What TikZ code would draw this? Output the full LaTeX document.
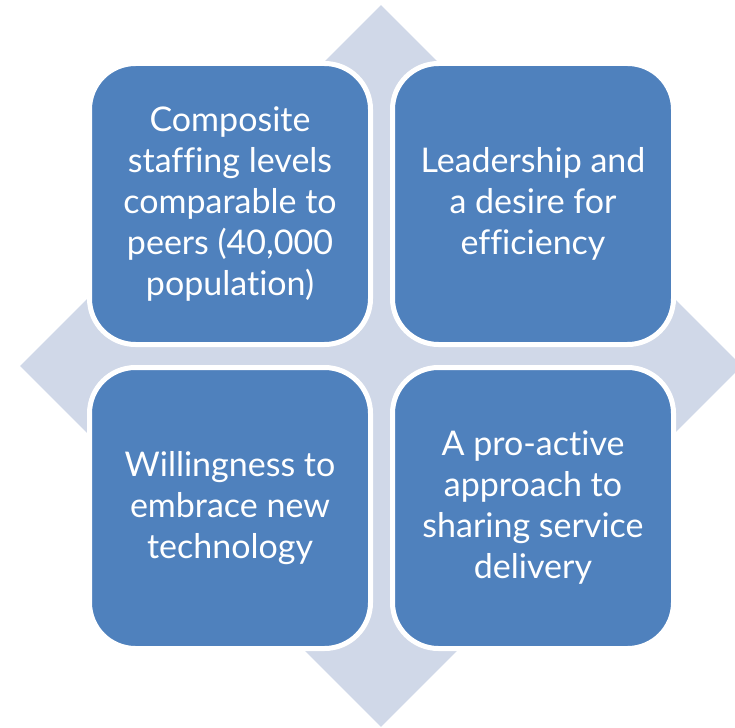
\documentclass[tikz,border=0pt]{standalone}
\usepackage{fontspec}
\setmainfont[Ligatures={NoCommon}]{Lato}
\usetikzlibrary{positioning}
\usetikzlibrary{shapes.geometric}
\definecolor{QuadBlue}{HTML}{4F81BD}
\definecolor{QuadPale}{HTML}{D0D8E8}

\begin{document}
\begin{tikzpicture}[
  x=1pt, y=-1pt,
  node distance={304pt and 303pt},
  on grid,
  quad/.style={draw=white, line width=5pt, fill=QuadBlue, rounded corners=46pt,
    minimum width=281pt, minimum height=281pt, inner sep=0pt,
    text=white, align=center, font=\fontsize{34}{41}\selectfont},
  ]
\useasboundingbox (0,0) rectangle (735,727);

\node [diamond, fill=QuadPale, inner sep=0pt, minimum width=722pt, minimum height=722pt] (cross) at (381,366) {};

\node [quad] (q1) at (230,204) {Composite\\staffing levels\\comparable to\\peers (40,000\\population)};
\node [quad] (q2) [right=of q1] {Leadership and\\a desire for\\efficiency};
\node [quad] (q3) [below=of q1] {Willingness to\\embrace new\\technology};
\node [quad] (q4) [right=of q3] {A pro-active\\approach to\\sharing service\\delivery};
\end{tikzpicture}
\end{document}
